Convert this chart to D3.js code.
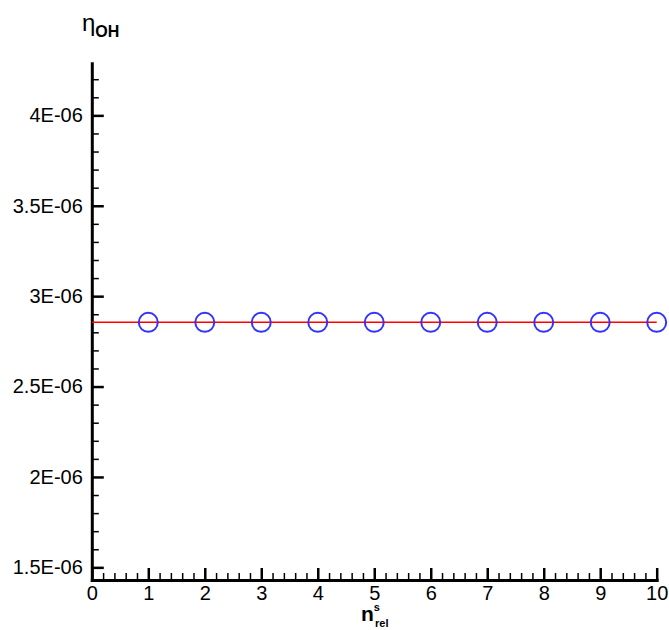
<!DOCTYPE html>
<html lang="en">
<head>
    <meta charset="UTF-8">
    <title>eta OH vs n rel</title>
    <style>
        body { margin: 0; background: #fff; }
        svg text { font-family: "Liberation Sans", Arial, sans-serif; fill: #000; }
        .tick text { font-size: 20px; }
    </style>
</head>
<body>
    <svg id="chart"></svg>
    <script src="https://cdnjs.cloudflare.com/ajax/libs/d3/7.9.0/d3.js"></script>
    <script>
        // data
        const nRel = [1, 2, 3, 4, 5, 6, 7, 8, 9, 10];
        const etaOH = [2.855e-6, 2.855e-6, 2.855e-6, 2.855e-6, 2.855e-6, 2.855e-6, 2.855e-6, 2.855e-6, 2.855e-6, 2.855e-6];
        const lineX = [0, 10];
        const lineY = [2.855e-6, 2.855e-6];

        const xTicks = [0, 1, 2, 3, 4, 5, 6, 7, 8, 9, 10];
        const yTicks = [1.5e-6, 2e-6, 2.5e-6, 3e-6, 3.5e-6, 4e-6];
        const yTickLabels = ["1.5E-06", "2E-06", "2.5E-06", "3E-06", "3.5E-06", "4E-06"];

        const w = 669, h = 630;
        const mLeft = 91.8, mRight = 656.7, mTop = 63.3, mBottom = 580;

        const svg = d3.select("#chart").attr("width", w).attr("height", h);

        const x = d3.scaleLinear().domain([0, 10]).range([mLeft, mRight]);
        const y = d3.scaleLinear().domain([1.43e-6, 4.288e-6]).range([mBottom, mTop]);

        const xMinor = d3.range(0, 10.001, 0.2).filter(v => Math.abs(v - Math.round(v)) > 1e-6);
        const yMinor = d3.range(15, 43, 1).map(v => v * 1e-7).filter(v => Math.abs(v * 2e6 - Math.round(v * 2e6)) > 1e-6);

        // minor ticks
        svg.append("g")
            .attr("transform", `translate(0,${mBottom})`)
            .call(d3.axisBottom(x).tickValues(xMinor).tickSizeInner(-7).tickSizeOuter(0).tickFormat(""))
            .call(g => g.select(".domain").remove())
            .call(g => g.selectAll("line").attr("stroke-width", 1.5));

        svg.append("g")
            .attr("transform", `translate(${mLeft},0)`)
            .call(d3.axisLeft(y).tickValues(yMinor).tickSizeInner(-7).tickSizeOuter(0).tickFormat(""))
            .call(g => g.select(".domain").remove())
            .call(g => g.selectAll("line").attr("stroke-width", 1.5));

        // major ticks + labels
        svg.append("g")
            .attr("transform", `translate(0,${mBottom})`)
            .call(d3.axisBottom(x).tickValues(xTicks).tickSizeInner(-12).tickSizeOuter(0).tickPadding(6).tickFormat(d3.format("d")))
            .call(g => g.select(".domain").attr("stroke-width", 3).attr("stroke-linecap", "square"))
            .call(g => g.selectAll("line").attr("stroke-width", 2.5));

        svg.append("g")
            .attr("transform", `translate(${mLeft},0)`)
            .call(d3.axisLeft(y).tickValues(yTicks).tickSizeInner(-12).tickSizeOuter(0).tickPadding(9)
                .tickFormat((d, i) => yTickLabels[i]))
            .call(g => g.select(".domain").attr("stroke-width", 3).attr("stroke-linecap", "square"))
            .call(g => g.selectAll("line").attr("stroke-width", 2.5));

        svg.selectAll(".tick text").attr("font-family", null).attr("font-size", null);

        // red line
        svg.append("path")
            .datum(lineX.map((v, i) => [v, lineY[i]]))
            .attr("fill", "none")
            .attr("stroke", "#ff0000")
            .attr("stroke-width", 1.5)
            .attr("d", d3.line().x(d => x(d[0])).y(d => y(d[1])));

        // circles
        svg.selectAll(".pt")
            .data(nRel.map((v, i) => [v, etaOH[i]]))
            .enter()
            .append("circle")
            .attr("class", "pt")
            .attr("cx", d => x(d[0]))
            .attr("cy", d => y(d[1]))
            .attr("r", 9.5)
            .attr("fill", "none")
            .attr("stroke", "#3333ff")
            .attr("stroke-width", 2);

        // y title
        const yt = svg.append("text").attr("x", 82).attr("y", 31);
        yt.append("tspan").attr("font-size", 24).text("η");
        yt.append("tspan").attr("font-size", 16).attr("font-weight", "bold").attr("dy", 6).text("OH");

        // x title
        const xt = svg.append("text").attr("x", 361).attr("y", 621).attr("font-weight", "bold");
        xt.append("tspan").attr("font-size", 21).text("n");
        xt.append("tspan").attr("font-size", 11).attr("dy", -10).text("s");
        xt.append("tspan").attr("font-size", 11).attr("x", 375).attr("dy", 16).text("rel");
    </script>
</body>
</html>
